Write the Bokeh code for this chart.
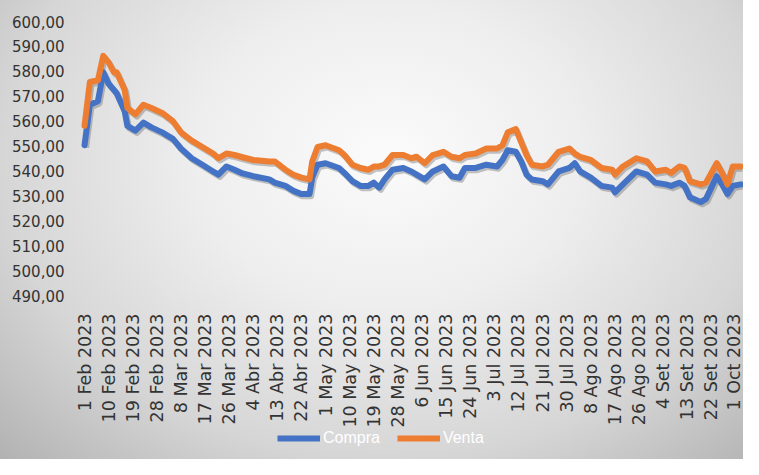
import math
from bokeh.plotting import figure
from bokeh.layouts import column
from bokeh.models import FixedTicker, Legend, LegendItem, Range1d, ColumnDataSource
from bokeh.transform import dodge
from bokeh.embed import file_html
from bokeh.resources import INLINE

# ---- data ----
x_labels = ["1 Feb 2023", "10 Feb 2023", "19 Feb 2023", "28 Feb 2023", "8 Mar 2023",
            "17 Mar 2023", "26 Mar 2023", "4 Abr 2023", "13 Abr 2023", "22 Abr 2023",
            "1 May 2023", "10 May 2023", "19 May 2023", "28 May 2023", "6 Jun 2023",
            "15 Jun 2023", "24 Jun 2023", "3 Jul 2023", "12 Jul 2023", "21 Jul 2023",
            "30 Jul 2023", "8 Ago 2023", "17 Ago 2023", "26 Ago 2023", "4 Set 2023",
            "13 Set 2023", "22 Set 2023", "1 Oct 2023"]
label_step = 9  # days between labels

y_ticks = [490, 500, 510, 520, 530, 540, 550, 560, 570, 580, 590, 600]
y_labels = ["490,00", "500,00", "510,00", "520,00", "530,00", "540,00",
            "550,00", "560,00", "570,00", "580,00", "590,00", "600,00"]

series_names = ["Compra", "Venta"]

day = [0, 2, 5, 7, 9, 11, 12, 15, 16, 19, 22, 25, 29, 33, 36, 40, 44, 48, 50, 53,
       56, 59, 63, 69, 71, 75, 78, 81, 84, 85, 87, 90, 95, 97, 100, 103, 106, 108, 110, 112,
       115, 119, 122, 124, 127, 130, 134, 137, 140, 142, 146, 150, 154, 156, 158, 161, 163, 165, 167, 171,
       173, 177, 181, 183, 185, 189, 193, 197, 198, 201, 206, 210, 213, 217, 219, 222, 224, 226, 230, 232,
       236, 238, 240, 242, 245]

venta = [558.1, 575.7, 576.4, 586.2, 583.6, 579.6, 579.6, 572.5, 565.3, 562.7,
         566.6, 565.3, 563.3, 560.0, 555.5, 552.2, 549.6, 547.0, 545.1, 547.0,
         546.4, 545.5, 544.4, 543.8, 543.8, 540.5, 538.5, 537.3, 536.6, 543.8,
         549.6, 550.3, 548.3, 546.4, 542.5, 541.2, 540.5, 541.8, 541.8, 542.5,
         546.4, 546.4, 545.1, 545.7, 543.1, 546.4, 547.7, 545.7, 545.1, 546.4,
         547.0, 549.0, 549.0, 550.3, 555.5, 556.8, 551.6, 546.4, 542.5, 541.8,
         542.5, 547.7, 549.0, 547.0, 545.7, 544.4, 541.2, 540.5, 538.5, 541.8,
         545.1, 543.8, 539.8, 540.5, 539.2, 541.8, 541.2, 535.9, 534.6, 535.3,
         543.1, 539.2, 534.6, 541.8, 541.8]

compra = [550.3, 566.6, 568.0, 579.6, 575.0, 572.5, 571.2, 564.0, 558.1, 556.2,
          559.4, 557.5, 555.5, 552.9, 549.0, 545.1, 542.5, 539.8, 538.5, 541.8,
          540.5, 539.0, 537.9, 536.6, 535.3, 534.0, 532.0, 530.7, 530.7, 537.3,
          542.5, 543.1, 541.2, 539.2, 535.9, 534.0, 534.0, 535.3, 533.3, 536.6,
          540.5, 541.2, 539.8, 538.5, 536.6, 539.8, 541.8, 537.9, 537.3, 541.2,
          541.2, 542.5, 541.8, 544.4, 548.3, 547.7, 543.8, 538.5, 536.6, 535.9,
          534.6, 539.8, 541.2, 543.1, 539.8, 537.3, 534.0, 533.3, 531.4, 534.6,
          539.8, 538.5, 535.3, 534.6, 534.0, 535.3, 534.0, 529.4, 527.5, 528.8,
          537.9, 534.6, 530.7, 534.0, 534.6]

x_ticks = [i * label_step for i in range(len(x_labels))]

BLUE = "#4472C4"
ORANGE = "#ED7D31"

src = ColumnDataSource(dict(day=day, venta=venta, compra=compra))

grad = ("radial-gradient(ellipse farthest-corner at 52% 34%, #fbfbfb 0%, "
        "#eeeeee 35%, #d6d6d6 70%, #b2b2b2 100%)")

W = 743
p = figure(width=W, height=430, output_backend="svg", toolbar_location=None,
           x_range=Range1d(-2.24, 246.0), y_range=Range1d(490, 600),
           min_border_left=78, min_border_top=21, min_border_right=0,
           min_border_bottom=128,
           border_fill_alpha=0, background_fill_alpha=0, outline_line_color=None)

p.xgrid.visible = False
p.ygrid.visible = False

# soft drop shadows of the lines
for col in ("compra", "venta"):
    p.line(x=dodge("day", 0.6), y=dodge(col, -0.9), source=src, line_width=6,
           line_color="#5a5a5a", line_alpha=0.35, line_join="round")

p.line(x="day", y="compra", source=src, line_width=6, line_color=BLUE,
       line_join="round", line_cap="round")
p.line(x="day", y="venta", source=src, line_width=6, line_color=ORANGE,
       line_join="round", line_cap="round")

font = "DejaVu Sans"
p.yaxis.ticker = FixedTicker(ticks=y_ticks)
p.yaxis.major_label_overrides = {t: l for t, l in zip(y_ticks, y_labels)}
p.xaxis.ticker = FixedTicker(ticks=x_ticks)
p.xaxis.major_label_overrides = {t: l for t, l in zip(x_ticks, x_labels)}
p.xaxis.major_label_orientation = math.pi / 2

for ax in (p.xaxis, p.yaxis):
    ax.axis_line_color = None
    ax.major_tick_line_color = None
    ax.minor_tick_line_color = None
    ax.major_tick_out = 0
    ax.major_tick_in = 0
    ax.major_label_text_color = "#333333"
    ax.major_label_text_font = font
p.yaxis.major_label_text_font_size = "15px"
p.yaxis.major_label_standoff = 14
p.xaxis.major_label_text_font_size = "17.5px"
p.xaxis.major_label_standoff = 18

# legend strip below the chart (its lines lie outside its tiny ranges, so only
# the legend samples show)
p2 = figure(width=W, height=29, output_backend="svg", toolbar_location=None,
            x_range=Range1d(0, 1), y_range=Range1d(0, 1),
            min_border_left=0, min_border_right=0, min_border_top=0, min_border_bottom=0,
            border_fill_alpha=0, background_fill_alpha=0, outline_line_color=None)
p2.axis.visible = False
p2.grid.visible = False
lb = p2.line(x="day", y="compra", source=src, line_width=6, line_color=BLUE)
lo = p2.line(x="day", y="venta", source=src, line_width=6, line_color=ORANGE)
legend = Legend(items=[LegendItem(label=series_names[0], renderers=[lb]),
                       LegendItem(label=series_names[1], renderers=[lo])],
                orientation="horizontal", location=(199, 12),
                label_text_color="white", label_text_font="Liberation Sans",
                label_text_font_size="16px", glyph_width=43, glyph_height=12,
                label_height=12, label_text_baseline="middle",
                label_standoff=3, spacing=17, padding=0, margin=0,
                background_fill_alpha=0, border_line_alpha=0)
p2.add_layout(legend, "center")

layout = column(p, p2, spacing=0)
layout.styles = {"background": grad}

open("out.html", "w").write(file_html(layout, INLINE))
